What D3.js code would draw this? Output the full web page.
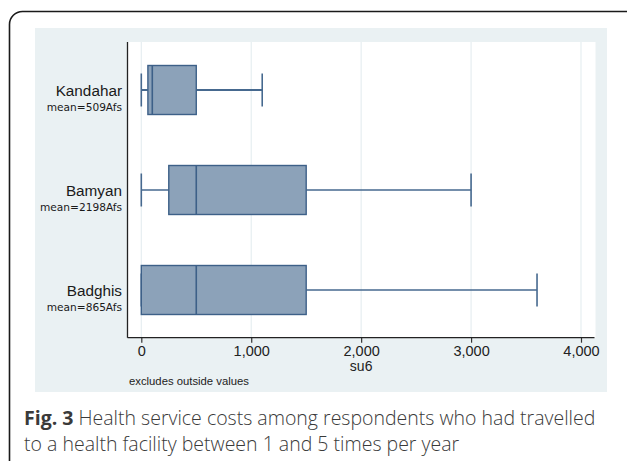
<!DOCTYPE html>
<html>
<head>
<meta charset="utf-8">
<script src="https://cdn.jsdelivr.net/npm/d3@7"></script>
<style>
  html, body { margin: 0; padding: 0; background: #fff; }
  svg { display: block; }
</style>
</head>
<body>
<svg id="chart" width="627" height="461"></svg>
<script>
// Provinces and their cost summaries (Afs)
const regions = ["Kandahar", "Bamyan", "Badghis"];
const means = [509, 2198, 865];
const lowerWhisker = [0, 0, 0];
const q1 = [60, 250, 0];
const median = [100, 500, 500];
const q3 = [500, 1500, 1500];
const upperWhisker = [1100, 3000, 3600];
const xTicks = [0, 1000, 2000, 3000, 4000];
const xTitle = "su6";
const note = "excludes outside values";
const captionBold = "Fig. 3";
const captionLine1 = " Health service costs among respondents who had travelled";
const captionLine2 = "to a health facility between 1 and 5 times per year";

const svg = d3.select("#chart");

// Outer rounded frame of the figure
svg.append("rect")
  .attr("x", 9.5).attr("y", 11.5)
  .attr("width", 640).attr("height", 520)
  .attr("rx", 13).attr("ry", 13)
  .attr("fill", "#fff")
  .attr("stroke", "#1a1a1a")
  .attr("stroke-width", 1.6);

// Graph region and plot region
const panel = { x: 35, y: 28, w: 572, h: 364 };
const plot = { left: 127.5, right: 595.5, top: 42, bottom: 337.7 };

svg.append("rect")
  .attr("x", panel.x).attr("y", panel.y)
  .attr("width", panel.w).attr("height", panel.h)
  .attr("fill", "#eaf1f3");

svg.append("rect")
  .attr("x", plot.left).attr("y", plot.top)
  .attr("width", plot.right - plot.left).attr("height", plot.bottom - plot.top)
  .attr("fill", "#fff");

const x = d3.scaleLinear().domain([0, 4000]).range([141.3, 581]);
const y = d3.scalePoint().domain(regions).range([40, 340]).padding(0.5);

// Vertical grid lines
svg.append("g")
  .selectAll("line")
  .data(xTicks)
  .join("line")
  .attr("x1", d => x(d)).attr("x2", d => x(d))
  .attr("y1", plot.top).attr("y2", plot.bottom)
  .attr("stroke", "#e6eef1")
  .attr("stroke-width", 1.2);

// Boxes and whiskers
const boxH = 49, capH = 33;
const rows = regions.map((r, i) => ({
  r, lo: lowerWhisker[i], q1: q1[i], med: median[i], q3: q3[i], hi: upperWhisker[i]
}));

const g = svg.append("g");
rows.forEach((d, i) => {
  const cy = y(d.r);
  const ww = i === 0 ? 2 : 1.5;
  // whiskers
  g.append("line")
    .attr("x1", x(d.lo)).attr("x2", x(d.q1))
    .attr("y1", cy).attr("y2", cy)
    .attr("stroke", "#46698f").attr("stroke-width", ww);
  g.append("line")
    .attr("x1", x(d.q3)).attr("x2", x(d.hi))
    .attr("y1", cy).attr("y2", cy)
    .attr("stroke", "#46698f").attr("stroke-width", ww);
  [d.lo, d.hi].forEach(v => {
    g.append("line")
      .attr("x1", x(v)).attr("x2", x(v))
      .attr("y1", cy - capH / 2).attr("y2", cy + capH / 2)
      .attr("stroke", "#46698f").attr("stroke-width", 1.6);
  });
  // box
  g.append("rect")
    .attr("x", x(d.q1)).attr("y", cy - boxH / 2)
    .attr("width", x(d.q3) - x(d.q1)).attr("height", boxH)
    .attr("fill", "#8ca2b9")
    .attr("stroke", "#3d6088").attr("stroke-width", 1.4);
  // median
  g.append("line")
    .attr("x1", x(d.med)).attr("x2", x(d.med))
    .attr("y1", cy - boxH / 2).attr("y2", cy + boxH / 2)
    .attr("stroke", "#3d6088").attr("stroke-width", 1.6);
});

// Axes lines
svg.append("line")
  .attr("x1", plot.left).attr("x2", plot.left)
  .attr("y1", plot.top).attr("y2", plot.bottom)
  .attr("stroke", "#222").attr("stroke-width", 1.3);

const xAxis = d3.axisBottom(x)
  .tickValues(xTicks)
  .tickFormat(d3.format(","))
  .tickSize(5)
  .tickPadding(3);

const ax = svg.append("g")
  .attr("transform", `translate(0,${plot.bottom})`)
  .call(xAxis);
ax.select(".domain").remove();
ax.append("line")
  .attr("x1", plot.left).attr("x2", 594.5)
  .attr("y1", 0).attr("y2", 0)
  .attr("stroke", "#222").attr("stroke-width", 1.3);
ax.selectAll(".tick line").attr("stroke", "#333").attr("stroke-width", 1.2);
ax.selectAll(".tick text")
  .attr("fill", "#222")
  .style("font-family", "'Liberation Sans', Arial, sans-serif")
  .style("font-size", "14.5px");

// Axis title and note
svg.append("text")
  .attr("x", x(2000)).attr("y", 371)
  .attr("text-anchor", "middle")
  .attr("fill", "#222")
  .style("font-family", "'Liberation Sans', Arial, sans-serif")
  .style("font-size", "14px")
  .text(xTitle);

svg.append("text")
  .attr("x", 129).attr("y", 384.5)
  .attr("fill", "#222")
  .style("font-family", "'Liberation Sans', Arial, sans-serif")
  .style("font-size", "11.3px")
  .text(note);

// Category labels with means
const labels = svg.append("g");
regions.forEach((r, i) => {
  labels.append("text")
    .attr("x", 122).attr("y", y(r) + 6)
    .attr("text-anchor", "end")
    .attr("fill", "#1a1a1a")
    .style("font-family", "'Liberation Sans', Arial, sans-serif")
    .style("font-size", "15.3px")
    .text(r);
  labels.append("text")
    .attr("x", 122).attr("y", y(r) + 21)
    .attr("text-anchor", "end")
    .attr("fill", "#1a1a1a")
    .style("font-family", "'DejaVu Sans', Verdana, sans-serif")
    .style("font-size", "10.6px")
    .text(`mean=${means[i]}Afs`);
});

// Figure caption
const cap = svg.append("g")
  .attr("fill", "#3a3a3a")
  .style("font-family", "'Open Sans', sans-serif")
  .style("font-size", "19.5px");
const t1 = cap.append("text").attr("x", 24).attr("y", 425);
t1.append("tspan").style("font-weight", "700").text(captionBold);
t1.append("tspan").style("font-weight", "300").text(captionLine1);
cap.append("text").attr("x", 24).attr("y", 451).style("font-weight", "300").text(captionLine2);
</script>
</body>
</html>
